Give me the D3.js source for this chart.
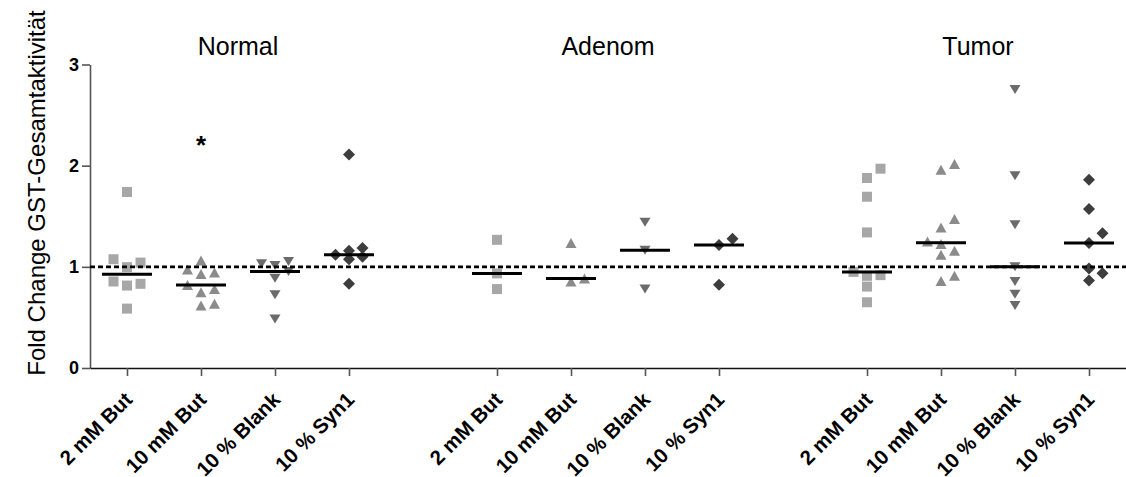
<!DOCTYPE html>
<html>
<head>
<meta charset="utf-8">
<script src="https://cdn.jsdelivr.net/npm/d3@7"></script>
<style>
  html, body { margin: 0; padding: 0; background: #fff; }
  svg { display: block; }
  text { font-family: "Liberation Sans", Arial, sans-serif; fill: #000; }
</style>
</head>
<body>
<svg id="chart" width="1126" height="477"></svg>
<script>
// Tissue groups and treatments
const groups = ["Normal", "Adenom", "Tumor"];
const treatments = ["2 mM But", "10 mM But", "10 % Blank", "10 % Syn1"];
const yTicks = [0, 1, 2, 3];
const yTitle = "Fold Change GST-Gesamtaktivität";

// Fold change per sample, one list per treatment
const normalValues = [
  [1.74, 1.075, 1.042, 0.997, 0.855, 0.832, 0.815, 0.587],
  [1.062, 0.973, 0.943, 0.93, 0.82, 0.782, 0.75, 0.634, 0.617],
  [1.052, 1.03, 1.013, 0.953, 0.888, 0.723, 0.485],
  [2.11, 1.185, 1.16, 1.119, 1.10, 1.076, 0.832]
];
const adenomValues = [
  [1.267, 0.935, 0.78],
  [1.235, 0.885, 0.855],
  [1.44, 1.165, 0.78],
  [1.277, 1.215, 0.822]
];
const tumorValues = [
  [1.97, 1.878, 1.693, 1.34, 0.95, 0.918, 0.911, 0.805, 0.65],
  [2.017, 1.96, 1.472, 1.389, 1.25, 1.225, 1.158, 1.119, 0.911, 0.861],
  [2.752, 1.90, 1.416, 1.0, 0.855, 0.73, 0.617],
  [1.861, 1.571, 1.333, 1.235, 0.983, 0.937, 0.864]
];
const baselineValue = 1;

// Significance marks
const annotations = [{ group: "Normal", treatment: "10 mM But", value: 2.25, label: "*" }];

const valuesByGroup = { Normal: normalValues, Adenom: adenomValues, Tumor: tumorValues };

// ---- layout ----
const svg = d3.select("#chart");
const plotLeft = 90, plotRight = 1126, plotTop = 64.5, plotBottom = 368;

// One slot per treatment plus an empty slot between groups
const slots = [];
groups.forEach((g, gi) => {
  treatments.forEach(t => slots.push(g + "|" + t));
  if (gi < groups.length - 1) slots.push("gap" + gi);
});
const x = d3.scalePoint().domain(slots).range([plotLeft, plotRight]).padding(0.5);
const y = d3.scaleLinear().domain([0, 3]).range([plotBottom, plotTop]);

// symbol shapes, centred on their bounding box
const shapes = [
  "M-5,-5H5V5H-5Z",
  "M0,-5L5.5,5L-5.5,5Z",
  "M-5.5,-4.5L5.5,-4.5L0,4.5Z",
  "M0,-6L6,0L0,6L-6,0Z"
];
const colors = ["#a7a7a7", "#8b8b8b", "#6b6b6b", "#3d3d3d"];

// Spread overlapping points sideways: centre column first, then right, then left
function swarm(values, step, minGap) {
  const items = values.map(v => ({ v, py: y(v), dx: 0 }))
    .sort((a, b) => b.py - a.py);
  const cands = [0, step, -step];
  const placed = [];
  items.forEach(it => {
    let best = null, bestGap = -1;
    for (const c of cands) {
      const gaps = placed.filter(p => Math.abs(p.dx - c) < step - 1e-6).map(p => Math.abs(p.py - it.py));
      const g = gaps.length ? d3.min(gaps) : Infinity;
      if (g >= minGap) { best = c; break; }
      if (g > bestGap) { bestGap = g; best = c; }
    }
    it.dx = best;
    placed.push(it);
  });
  return items;
}

// axes
const yAxis = d3.axisLeft(y).tickValues(yTicks).tickFormat(d3.format("d"))
  .tickSize(8).tickSizeOuter(0).tickPadding(3);
const gy = svg.append("g").attr("transform", `translate(${plotLeft},0)`).call(yAxis);
gy.select(".domain").attr("stroke", "#555").attr("stroke-width", 1.6);
gy.selectAll(".tick line").attr("stroke", "#555").attr("stroke-width", 1.6);
gy.selectAll(".tick text")
  .attr("font-size", 18).attr("font-weight", "bold")
  .style("font-family", "'Liberation Sans', Arial, sans-serif").attr("fill", "#000");

const tickSlots = slots.filter(s => !s.startsWith("gap"));
const xAxis = d3.axisBottom(x).tickValues(tickSlots).tickSize(8).tickSizeOuter(0)
  .tickFormat(s => s.split("|")[1]);
const gx = svg.append("g").attr("transform", `translate(0,${plotBottom})`).call(xAxis);
gx.select(".domain").attr("stroke", "#111").attr("stroke-width", 1.6);
gx.selectAll(".tick line").attr("stroke", "#555").attr("stroke-width", 1.6);
gx.selectAll(".tick text")
  .attr("font-size", 20.5).attr("font-weight", "bold")
  .style("font-family", "'Liberation Sans', Arial, sans-serif").attr("fill", "#000")
  .attr("text-anchor", "end")
  .attr("dy", null).attr("y", null)
  .attr("transform", "translate(6,33) rotate(-45)");

// y axis title
svg.append("text")
  .attr("transform", `translate(45,${(13 + 373) / 2}) rotate(-90)`)
  .attr("text-anchor", "middle")
  .attr("font-size", 24)
  .text(yTitle);

// group titles
groups.forEach(g => {
  const cx = (x(g + "|" + treatments[1]) + x(g + "|" + treatments[2])) / 2;
  svg.append("text").attr("x", cx).attr("y", 55)
    .attr("text-anchor", "middle").attr("font-size", 25).text(g);
});

// points
const pts = svg.append("g");
groups.forEach(g => {
  valuesByGroup[g].forEach((vals, ti) => {
    const cx = x(g + "|" + treatments[ti]);
    pts.selectAll(null).data(swarm(vals, 13.5, 10)).enter().append("path")
      .attr("d", shapes[ti]).attr("fill", colors[ti])
      .attr("transform", d => `translate(${cx + d.dx},${d.py})`);
  });
});

// reference line at fold change 1
svg.append("line")
  .attr("x1", plotLeft).attr("x2", plotRight)
  .attr("y1", y(baselineValue)).attr("y2", y(baselineValue))
  .attr("stroke", "#000").attr("stroke-width", 2.6).attr("stroke-dasharray", "5,3");

// medians
groups.forEach(g => {
  valuesByGroup[g].forEach((vals, ti) => {
    const cx = x(g + "|" + treatments[ti]);
    const m = d3.median(vals);
    svg.append("line").attr("x1", cx - 25).attr("x2", cx + 25)
      .attr("y1", y(m)).attr("y2", y(m))
      .attr("stroke", "#000").attr("stroke-width", 3);
  });
});

// significance marks
annotations.forEach(a => {
  svg.append("text").attr("x", x(a.group + "|" + a.treatment)).attr("y", y(a.value) + 14)
    .attr("text-anchor", "middle").attr("font-size", 26).attr("font-weight", "bold").text(a.label);
});
</script>
</body>
</html>
